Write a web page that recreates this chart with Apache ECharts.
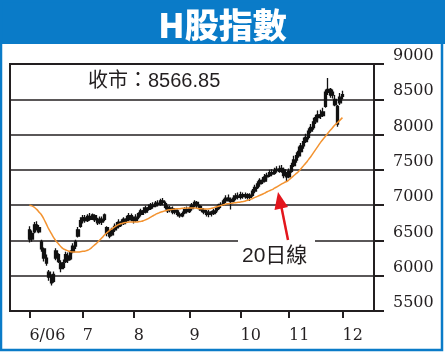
<!DOCTYPE html>
<html>
<head>
<meta charset="utf-8">
<script src="https://cdn.jsdelivr.net/npm/echarts@6/dist/echarts.min.js"></script>
<style>
html, body { margin: 0; padding: 0; background: #fff; }
#chart { width: 445px; height: 352px; }
</style>
</head>
<body>
<div id="chart"></div>
<script>
// 月份刻度 (交易日序号)
const tickLabels = ['6/06', '7', '8', '9', '10', '11', '12'];
const tickDays = [0, 22, 43, 66, 87, 107, 129];

// 每日 [開市, 收市, 最低, 最高]
const ohlc = [
  // 6月
  [6650,6520,6470,6700],[6520,6600,6480,6640],[6620,6720,6600,6760],[6720,6680,6640,6770],
  [6680,6620,6600,6720],[6480,6380,6340,6510],[6380,6250,6200,6400],[6250,6180,6140,6300],
  [6050,5980,5930,6080],[5980,5900,5860,6020],[5920,6020,5900,6060],[6250,6350,6220,6390],
  [6300,6200,6180,6320],[6180,6100,6050,6220],[6120,6180,6090,6230],[6200,6300,6180,6340],
  [6280,6220,6180,6330],[6240,6330,6220,6360],[6340,6420,6320,6460],[6420,6480,6380,6510],
  [6560,6650,6540,6690],[6700,6780,6680,6830],
  // 7月
  [6780,6820,6740,6860],[6820,6780,6750,6860],[6780,6840,6760,6870],[6840,6800,6780,6890],
  [6800,6860,6790,6880],[6850,6790,6760,6870],[6790,6750,6720,6820],[6760,6800,6730,6840],
  [6800,6760,6720,6840],[6800,6860,6770,6880],[6680,6600,6560,6700],[6600,6560,6530,6640],
  [6580,6650,6560,6680],[6650,6700,6620,6740],[6700,6680,6640,6760],[6700,6760,6680,6800],
  [6760,6740,6700,6800],[6740,6800,6720,6830],[6800,6780,6750,6850],[6790,6850,6770,6890],
  [6850,6810,6770,6880],
  // 8月
  [6800,6780,6740,6840],[6780,6830,6760,6870],[6830,6880,6800,6900],[6870,6920,6840,6950],
  [6920,6900,6860,6970],[6900,6960,6880,6990],[6960,6940,6920,7010],[6950,7000,6930,7030],
  [7000,6980,6950,7040],[6990,7030,6970,7060],[7030,7010,6980,7070],[7010,7060,6990,7090],
  [7060,7040,7000,7100],[7020,6970,6940,7050],[6970,6920,6890,7000],[6930,6960,6900,6990],
  [6950,6900,6870,6980],[6900,6930,6870,6960],[6920,6870,6840,6940],[6870,6850,6820,6900],
  [6850,6880,6830,6910],[6890,6940,6870,6970],[6940,6910,6880,6980],
  // 9月
  [6910,6950,6890,6980],[6950,7000,6920,7030],[7000,7040,6970,7070],[7040,6990,6960,7060],
  [6990,6950,6920,7010],[6950,6930,6900,6990],[6930,6900,6870,6960],[6900,6870,6840,6930],
  [6870,6900,6830,6930],[6900,6880,6840,6920],[6880,6920,6860,6950],[6920,6950,6890,6980],
  [6950,7000,6930,7020],[7000,7010,6960,7040],[7010,7060,6990,7090],[7060,7100,7030,7140],
  [7100,7080,7050,7150],[7080,7050,6940,7110],[7060,7100,7040,7140],[7100,7130,7070,7170],
  [7130,7110,7080,7180],
  // 10月
  [7110,7150,7080,7190],[7150,7120,7090,7180],[7120,7150,7090,7180],[7150,7110,7080,7170],
  [7110,7140,7060,7170],[7140,7200,7120,7230],[7200,7250,7170,7290],[7250,7300,7230,7340],
  [7300,7350,7260,7380],[7350,7330,7300,7400],[7340,7400,7320,7440],[7400,7420,7360,7460],
  [7420,7460,7400,7500],[7460,7440,7410,7510],[7450,7490,7430,7530],[7490,7510,7460,7550],
  [7510,7480,7460,7560],[7480,7520,7460,7570],[7500,7420,7380,7530],[7420,7400,7340,7470],
  // 11月
  [7400,7480,7380,7520],[7480,7560,7460,7600],[7560,7640,7540,7700],[7640,7700,7600,7750],
  [7700,7760,7670,7830],[7760,7840,7740,7880],[7840,7900,7800,7960],[7900,7960,7880,8010],
  [7960,8050,7930,8090],[8050,8100,8020,8150],[8100,8180,8070,8240],[8180,8240,8150,8280],
  [8240,8280,8200,8340],[8280,8260,8220,8350],[8270,8320,8250,8380],[8400,8600,8380,8640],
  [8600,8640,8560,8800],[8640,8560,8520,8660],[8560,8600,8510,8640],[8500,8420,8400,8560],
  [8400,8150,8110,8420],[8450,8530,8420,8590],
  // 12月
  [8540,8567,8500,8620]
];

// 20日線
const ma20 = [
  7000,6990,6970,6940,6900,6860,6800,6730,6660,6600,6540,6490,6450,6410,6380,6365,6350,6340,6335,6335,6335,6340,
  6345,6350,6360,6380,6410,6440,6470,6505,6540,6580,6610,6640,6665,6690,6710,6730,6740,6750,6755,6760,6760,
  6760,6760,6765,6770,6780,6795,6810,6830,6850,6870,6885,6900,6910,6920,6930,6935,6940,6945,6950,6950,6955,6955,6960,
  6960,6960,6960,6955,6950,6948,6946,6945,6948,6955,6965,6975,6985,6995,7005,7015,7020,7025,7030,7035,7040,
  7045,7050,7060,7070,7080,7095,7110,7125,7140,7155,7170,7190,7205,7220,7240,7260,7280,7300,7320,7335,
  7360,7390,7420,7450,7480,7520,7560,7600,7645,7690,7740,7790,7840,7890,7935,7975,8020,8060,8100,8140,8170,8205,
  8240
];

const closeText = '收市：8566.85';
const maText = '20日線';

// 前後留白的交易日位
const padStart = 8;
const padEnd = 13;
const total = padStart + ohlc.length + padEnd;
const slots = [];
for (let i = 0; i < total; i++) slots.push('d' + i);
const pad = (arr) => Array(padStart).fill('-').concat(arr, Array(padEnd).fill('-'));
const tickSlots = tickDays.map(d => d + padStart);

const ink = '#231f20';
const blue = '#0a7bc8';
const axisFont = 'DejaVu Serif';

const chart = echarts.init(document.getElementById('chart'));
chart.setOption({
  animation: false,
  title: {
    text: 'H股指數',
    left: 'center',
    top: 3,
    textStyle: {
      color: '#fff',
      fontSize: 34,
      fontWeight: 900,
      fontFamily: 'Noto Sans CJK TC'
    }
  },
  grid: {
    left: 10,
    right: 71,
    top: 64,
    bottom: 41,
    show: true,
    borderColor: ink,
    borderWidth: 2
  },
  xAxis: {
    type: 'category',
    data: slots,
    boundaryGap: false,
    axisLine: { lineStyle: { color: ink, width: 2 } },
    axisTick: {
      interval: (i) => tickSlots.includes(i),
      length: 7,
      lineStyle: { color: ink, width: 2 }
    },
    axisLabel: {
      interval: (i) => tickSlots.includes(i),
      formatter: (v, i) => tickLabels[tickSlots.indexOf(i)] || '',
      align: 'left',
      margin: 17,
      color: ink,
      fontSize: 16,
      fontFamily: axisFont
    },
    splitLine: { show: false }
  },
  yAxis: {
    type: 'value',
    position: 'right',
    min: 5500,
    max: 9000,
    interval: 500,
    axisLine: { show: true, lineStyle: { color: ink, width: 2 } },
    axisTick: { show: true, length: 10, lineStyle: { color: ink, width: 2 } },
    axisLabel: {
      margin: 19,
      color: ink,
      fontSize: 16,
      fontFamily: axisFont,
      verticalAlign: 'bottom',
      lineHeight: 16,
      formatter: (v) => String(v)
    },
    splitLine: { lineStyle: { color: ink, width: 1.5 } }
  },
  series: [
    {
      type: 'candlestick',
      data: pad(ohlc),
      barWidth: 3,
      itemStyle: {
        color: '#111',
        color0: '#111',
        borderColor: '#111',
        borderColor0: '#111',
        borderWidth: 1.3
      }
    },
    {
      type: 'line',
      data: pad(ma20),
      smooth: true,
      symbol: 'none',
      lineStyle: { color: '#f39330', width: 1.5 },
      z: 3
    }
  ],
  graphic: [
    { type: 'rect', shape: { x: 0, y: 0, width: 445, height: 44 }, style: { fill: blue }, z: -10 },
    { type: 'rect', shape: { x: 1, y: 1, width: 441, height: 349 }, style: { fill: null, stroke: blue, lineWidth: 2.5 }, z: -10 },
    {
      type: 'text', left: 88, top: 71, z: 100,
      style: { text: closeText, fontSize: 20, fill: ink, fontFamily: 'Liberation Sans, Noto Sans CJK TC' }
    },
    { type: 'rect', shape: { x: 238, y: 236, width: 77, height: 36 }, style: { fill: '#fff' }, z: 100 },
    {
      type: 'text', left: 242, top: 246, z: 101,
      style: { text: maText, fontSize: 21, fill: ink, fontFamily: 'Liberation Sans, Noto Sans CJK TC' }
    },
    { type: 'line', shape: { x1: 288, y1: 240, x2: 281, y2: 205 }, style: { stroke: '#e3161d', lineWidth: 2.5 }, z: 101 },
    { type: 'polygon', shape: { points: [[278, 192], [288, 207], [274.5, 210]] }, style: { fill: '#e3161d' }, z: 101 }
  ]
});
</script>
</body>
</html>
